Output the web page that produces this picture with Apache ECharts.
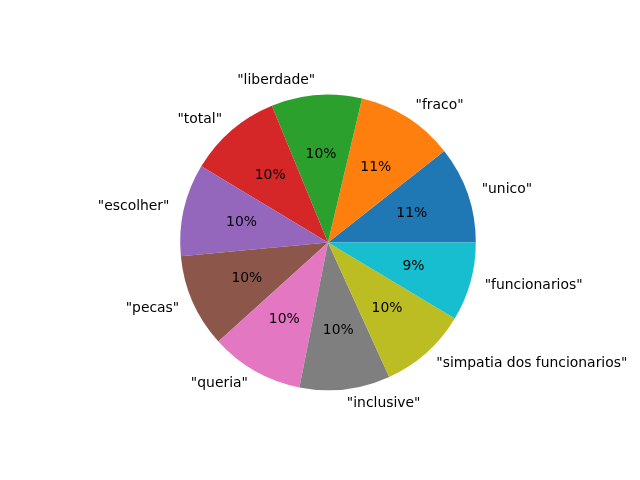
<!DOCTYPE html>
<html>
<head>
<meta charset="utf-8">
<script src="https://cdn.jsdelivr.net/npm/echarts@6/dist/echarts.min.js"></script>
<style>html,body{margin:0;padding:0;background:#fff}#c{width:640px;height:480px}</style>
</head>
<body>
<div id="c"></div>
<script>
const categories = ['"unico"', '"fraco"', '"liberdade"', '"total"', '"escolher"', '"pecas"', '"queria"', '"inclusive"', '"simpatia dos funcionarios"', '"funcionarios"'];
const values = [10.6, 10.7, 9.9, 10.2, 10.1, 10.2, 10.2, 9.9, 9.6, 8.6];
const colors = ['#1f77b4', '#ff7f0e', '#2ca02c', '#d62728', '#9467bd', '#8c564b', '#e377c2', '#7f7f7f', '#bcbd22', '#17becf'];

const R = 147.8;
const center = [328, 242.4];
const fontFamily = 'DejaVu Sans';
const fontSize = 13.9;

const data = categories.map((n, i) => ({ name: n, value: values[i], itemStyle: { color: colors[i] } }));
const dataT = categories.map((n, i) => ({ name: n, value: values[i] }));

const chart = echarts.init(document.getElementById('c'), null, { renderer: 'canvas' });
chart.setOption({
  backgroundColor: '#ffffff',
  animation: false,
  series: [
    {
      type: 'pie',
      center: center,
      radius: [0, R],
      startAngle: 0,
      clockwise: false,
      avoidLabelOverlap: false,
      percentPrecision: 4,
      itemStyle: { borderWidth: 0 },
      label: {
        show: true, position: 'outside', color: '#000', fontFamily: fontFamily, fontSize: fontSize,
        formatter: '{b}', distanceToLabelLine: 0
      },
      labelLine: { show: false, length: R * 0.1, length2: 0 },
      emphasis: { disabled: true },
      data: data
    },
    {
      type: 'pie',
      center: center,
      radius: [0, (R * 0.6 - 3) * 2],
      startAngle: 0,
      clockwise: false,
      avoidLabelOverlap: false,
      silent: true,
      percentPrecision: 4,
      itemStyle: { color: 'rgba(0,0,0,0)', borderWidth: 0 },
      label: {
        show: true, position: 'inside', color: '#000', fontFamily: fontFamily, fontSize: fontSize,
        formatter: p => Math.round(p.percent) + '%'
      },
      labelLine: { show: false },
      emphasis: { disabled: true },
      data: dataT
    }
  ]
});
</script>
</body>
</html>
